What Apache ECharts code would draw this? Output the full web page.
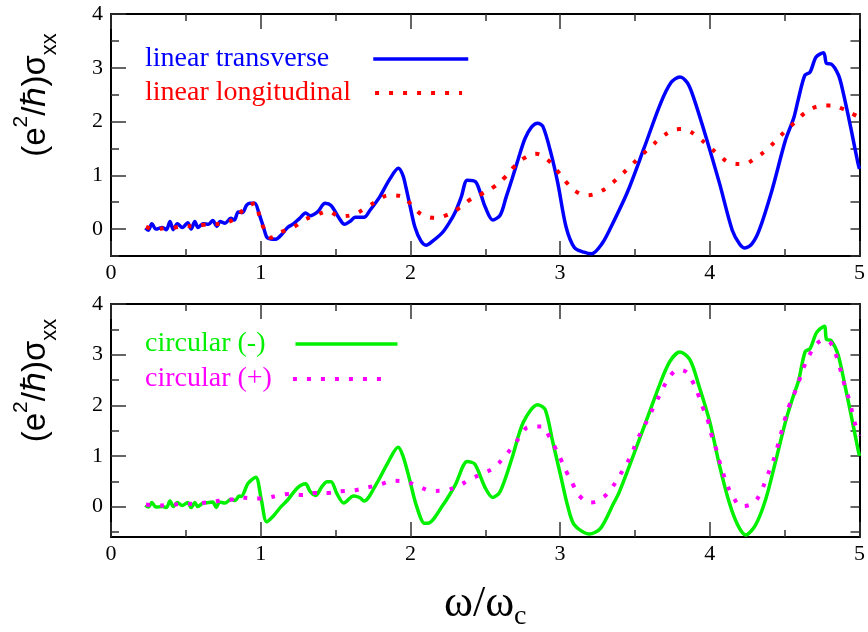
<!DOCTYPE html>
<html>
<head>
<meta charset="utf-8">
<script src="https://cdn.jsdelivr.net/npm/echarts@6/dist/echarts.min.js"></script>
<style>html,body{margin:0;padding:0;background:#fff;}#c{width:868px;height:632px;}</style>
</head>
<body>
<div id="c"></div>
<script>
// ---- data ----
var xTickLabels = [0, 1, 2, 3, 4, 5];
var yMajorTicks = [0, 1, 2, 3, 4];
var yMinorTicks = [-0.5, 0.5, 1.5, 2.5, 3.5];
var yAllTicks = [-0.5, 0, 0.5, 1, 1.5, 2, 2.5, 3, 3.5, 4];

var seriesNames = ['linear transverse', 'linear longitudinal', 'circular (-)', 'circular (+)'];

var blueX = [0.23,0.249,0.273,0.30,0.343,0.37,0.394,0.416,0.443,0.476,0.513,0.535,0.56,0.581,0.614,0.652,0.68,0.707,0.729,0.762,0.80,0.824,0.85,0.878,0.905,0.927,0.96,0.99,1.02,1.04,1.06,1.10,1.14,1.18,1.22,1.26,1.30,1.33,1.38,1.43,1.47,1.52,1.56,1.60,1.63,1.69,1.73,1.795,1.86,1.92,1.95,1.97,2.00,2.03,2.07,2.105,2.15,2.215,2.26,2.30,2.34,2.38,2.435,2.47,2.50,2.55,2.60,2.64,2.68,2.72,2.765,2.81,2.85,2.885,2.94,2.985,3.04,3.095,3.16,3.21,3.28,3.34,3.45,3.56,3.67,3.74,3.80,3.85,3.89,3.975,4.065,4.15,4.20,4.235,4.28,4.33,4.415,4.505,4.56,4.59,4.635,4.67,4.71,4.76,4.78,4.81,4.86,4.89,4.945,4.99,5.0];
var blueY = [0.02,-0.02,0.10,0.00,0.03,-0.01,0.14,-0.01,0.10,0.03,0.12,0.00,0.14,0.03,0.10,0.09,0.16,0.05,0.14,0.11,0.20,0.17,0.32,0.31,0.44,0.48,0.48,0.28,0.02,-0.15,-0.18,-0.19,-0.10,0.03,0.10,0.20,0.30,0.25,0.32,0.48,0.44,0.22,0.09,0.15,0.22,0.22,0.35,0.60,0.92,1.13,1.00,0.78,0.40,0.04,-0.22,-0.30,-0.22,-0.06,0.12,0.32,0.60,0.91,0.88,0.65,0.41,0.17,0.26,0.60,0.94,1.30,1.68,1.90,1.97,1.91,1.40,0.85,0.04,-0.34,-0.43,-0.46,-0.27,0.04,0.69,1.50,2.33,2.72,2.83,2.72,2.46,1.71,0.85,-0.02,-0.28,-0.35,-0.28,-0.02,0.72,1.65,2.06,2.40,2.86,2.92,3.20,3.28,3.08,3.07,2.86,2.55,1.84,1.22,1.12];

var redX = [0.234,0.295,0.37,0.425,0.50,0.555,0.62,0.69,0.755,0.83,0.888,0.964,0.99,1.02,1.066,1.14,1.22,1.29,1.37,1.45,1.53,1.62,1.70,1.775,1.856,1.945,2.01,2.077,2.165,2.25,2.33,2.40,2.48,2.56,2.63,2.69,2.76,2.84,2.92,2.98,3.036,3.10,3.18,3.27,3.345,3.41,3.477,3.543,3.61,3.677,3.756,3.80,3.85,3.92,3.99,4.06,4.13,4.225,4.30,4.377,4.44,4.507,4.57,4.64,4.72,4.806,4.894,4.97,5.0];
var redY = [0.04,0.00,0.02,0.03,0.06,0.05,0.08,0.09,0.11,0.20,0.37,0.48,0.26,0.02,-0.16,-0.05,0.04,0.17,0.26,0.33,0.24,0.27,0.39,0.52,0.63,0.61,0.44,0.27,0.21,0.27,0.40,0.55,0.66,0.79,0.96,1.15,1.32,1.40,1.28,1.09,0.89,0.71,0.63,0.70,0.85,1.01,1.19,1.37,1.54,1.71,1.84,1.86,1.84,1.71,1.55,1.38,1.24,1.21,1.31,1.47,1.64,1.83,1.99,2.17,2.28,2.30,2.23,2.12,2.08];

var greenX = [0.23,0.25,0.273,0.30,0.343,0.37,0.394,0.416,0.443,0.476,0.513,0.535,0.56,0.58,0.614,0.652,0.68,0.703,0.725,0.762,0.80,0.83,0.856,0.87,0.916,0.967,1.004,1.04,1.086,1.136,1.18,1.246,1.30,1.33,1.367,1.41,1.444,1.47,1.51,1.555,1.62,1.66,1.69,1.775,1.85,1.918,1.95,1.995,2.04,2.094,2.116,2.215,2.30,2.38,2.43,2.50,2.55,2.60,2.68,2.755,2.85,2.90,2.95,3.01,3.05,3.095,3.195,3.27,3.36,3.393,3.492,3.58,3.668,3.734,3.80,3.867,3.93,4.0,4.065,4.13,4.186,4.24,4.306,4.373,4.44,4.505,4.55,4.593,4.637,4.67,4.714,4.765,4.78,4.81,4.857,4.90,4.945,4.99,5.0];
var greenY = [0.03,-0.01,0.08,-0.01,0.00,-0.02,0.11,0.00,0.08,0.02,0.08,-0.02,0.08,0.00,0.07,0.08,0.09,-0.02,0.09,0.07,0.14,0.12,0.21,0.20,0.46,0.58,0.14,-0.30,-0.18,0.00,0.13,0.37,0.45,0.30,0.22,0.40,0.49,0.49,0.25,0.07,0.21,0.18,0.11,0.46,0.87,1.17,1.00,0.53,0.02,-0.33,-0.33,0.02,0.43,0.89,0.84,0.37,0.18,0.30,0.97,1.67,2.01,1.92,1.29,0.53,0.02,-0.36,-0.54,-0.43,0.08,0.27,1.03,1.73,2.43,2.87,3.05,2.90,2.36,1.67,0.81,0.08,-0.36,-0.56,-0.36,0.14,0.90,1.67,2.11,2.49,3.06,3.12,3.44,3.56,3.30,3.28,3.00,2.43,1.79,1.13,1.00];

var magentaX = [0.234,0.30,0.40,0.50,0.60,0.696,0.747,0.806,0.86,0.916,0.987,1.04,1.12,1.19,1.28,1.36,1.45,1.53,1.62,1.70,1.80,1.885,1.973,2.06,2.145,2.23,2.32,2.40,2.48,2.56,2.62,2.68,2.73,2.79,2.876,2.93,2.97,3.01,3.045,3.085,3.13,3.206,3.287,3.345,3.393,3.437,3.48,3.51,3.55,3.59,3.63,3.67,3.71,3.763,3.80,3.85,3.895,3.928,3.954,3.987,4.01,4.038,4.06,4.087,4.115,4.153,4.21,4.29,4.34,4.373,4.405,4.435,4.46,4.483,4.505,4.534,4.567,4.597,4.626,4.663,4.707,4.76,4.81,4.853,4.897,4.934,4.967,5.0];
var magentaY = [0.04,0.02,0.04,0.05,0.07,0.10,0.13,0.14,0.18,0.17,0.16,0.17,0.22,0.25,0.23,0.27,0.27,0.30,0.32,0.37,0.44,0.51,0.49,0.39,0.31,0.32,0.41,0.54,0.65,0.77,0.96,1.17,1.37,1.57,1.58,1.37,1.15,0.90,0.67,0.44,0.21,0.08,0.18,0.37,0.59,0.81,1.05,1.29,1.52,1.75,2.00,2.23,2.46,2.67,2.70,2.64,2.41,2.17,1.95,1.70,1.43,1.18,0.94,0.68,0.44,0.21,0.01,0.07,0.28,0.52,0.77,1.00,1.27,1.52,1.76,2.02,2.25,2.49,2.74,2.98,3.19,3.29,3.22,2.90,2.43,2.08,1.67,1.40];

function zip(xs, ys) { return xs.map(function (x, i) { return [x, ys[i]]; }); }

// ---- styling ----
var SERIF = 'Liberation Serif';
var SANS = 'Liberation Sans';
var tickColor = '#333';
var BLUE = '#0000ff', RED = '#ff0000', GREEN = '#00f000', MAGENTA = '#ff00ff';
var DOTS = [4, 10];

function xAxes(grid, pos, withLabels, extra) {
  var a = {
    type: 'value', gridIndex: grid, position: pos, min: 0, max: 5, interval: 1,
    axisLine: { show: true, onZero: false, lineStyle: { color: '#000', width: 2 } },
    axisTick: { show: true, inside: true, length: 15, lineStyle: { color: tickColor, width: 1.5 } },
    minorTick: { show: true, splitNumber: 2, length: 7, lineStyle: { color: tickColor, width: 1.5 } },
    splitLine: { show: false }, minorSplitLine: { show: false },
    axisLabel: { show: withLabels, margin: 6, fontSize: 22, fontFamily: SERIF, color: '#000',
      customValues: xTickLabels }
  };
  if (extra) for (var k in extra) a[k] = extra[k];
  return a;
}

function yAxesFor(grid, ymin, nameStr) {
  var base = {
    type: 'value', gridIndex: grid, min: ymin, max: 4, interval: 0.5,
    splitLine: { show: false }
  };
  function mk(o) { var r = {}; for (var k in base) r[k] = base[k]; for (var k2 in o) r[k2] = o[k2]; return r; }
  return [
    mk({
      position: 'left',
      axisLine: { show: true, onZero: false, lineStyle: { color: '#000', width: 2 } },
      axisTick: { show: true, inside: true, length: 15, customValues: yMajorTicks, lineStyle: { color: tickColor, width: 1.5 } },
      axisLabel: { show: true, margin: 8, fontSize: 22, fontFamily: SERIF, color: '#000', customValues: yMajorTicks },
      name: nameStr, nameLocation: 'middle', nameRotate: 90, nameGap: 50,
      nameTextStyle: {
        color: '#000', fontFamily: SANS, fontSize: 33, padding: [0, 0, 0, 80],
        rich: {
          m: { fontFamily: SANS, fontSize: 33, lineHeight: 50, color: '#000', verticalAlign: 'middle' },
          sup: { fontFamily: SANS, fontSize: 21, lineHeight: 21, color: '#000', verticalAlign: 'top' },
          sub: { fontFamily: SANS, fontSize: 22, lineHeight: 22, color: '#000', verticalAlign: 'bottom' }
        }
      }
    }),
    mk({
      position: 'left',
      axisLine: { show: false },
      axisTick: { show: true, inside: true, length: 8, customValues: yMinorTicks, lineStyle: { color: tickColor, width: 1.5 } },
      axisLabel: { show: false }
    }),
    mk({
      position: 'right',
      axisLine: { show: true, onZero: false, lineStyle: { color: '#000', width: 2 } },
      axisTick: { show: true, inside: true, length: 9, customValues: yAllTicks, lineStyle: { color: tickColor, width: 1.5 } },
      axisLabel: { show: false }
    })
  ];
}

var yName = '{m|(e}{sup|2}{m|/ℏ)σ}{sub|xx}';

function legendFor(name, color, top, itemWidth, gap, lineW, lineType) {
  return {
    data: [name], left: 145, top: top, orient: 'horizontal', align: 'right',
    padding: 0, itemWidth: itemWidth, itemHeight: 14, selectedMode: false,
    itemStyle: { opacity: 0 },
    lineStyle: { width: lineW, type: lineType, color: color },
    textStyle: { color: color, fontSize: 28, fontFamily: SERIF, padding: [0, gap, 0, 0] }
  };
}

var option = {
  animation: false,
  backgroundColor: '#fff',
  grid: [
    { left: 111, top: 14, width: 756, height: 242, containLabel: false },
    { left: 111, top: 304, width: 756, height: 242, containLabel: false }
  ],
  legend: [
    legendFor(seriesNames[0], BLUE, 45, 95, 39, 3.5, 'solid'),
    legendFor(seriesNames[1], RED, 79, 87, 19, 4, DOTS),
    legendFor(seriesNames[2], GREEN, 330, 102, 25, 3.5, 'solid'),
    legendFor(seriesNames[3], MAGENTA, 365, 97, 16, 4, DOTS)
  ],
  xAxis: [
    xAxes(0, 'bottom', true),
    xAxes(0, 'top', false),
    xAxes(1, 'bottom', true, {
      name: '{a|ω/ω}{s|c}', nameLocation: 'middle', nameGap: 40,
      nameTextStyle: {
        rich: {
          a: { fontFamily: SERIF, fontSize: 44, lineHeight: 54, color: '#000', verticalAlign: 'middle' },
          s: { fontFamily: SERIF, fontSize: 28, lineHeight: 28, color: '#000', verticalAlign: 'bottom' }
        }
      }
    }),
    xAxes(1, 'top', false)
  ],
  yAxis: [].concat(yAxesFor(0, -0.5, yName), yAxesFor(1, -0.6, yName)),
  series: [
    { name: seriesNames[0], type: 'line', xAxisIndex: 0, yAxisIndex: 0, data: zip(blueX, blueY),
      symbol: 'none', smooth: 0.3, color: BLUE, lineStyle: { color: BLUE, width: 3.5 } },
    { name: seriesNames[1], type: 'line', xAxisIndex: 0, yAxisIndex: 0, data: zip(redX, redY),
      symbol: 'none', smooth: 0.4, color: RED, lineStyle: { color: RED, width: 4, type: DOTS } },
    { name: seriesNames[2], type: 'line', xAxisIndex: 2, yAxisIndex: 3, data: zip(greenX, greenY),
      symbol: 'none', smooth: 0.3, color: GREEN, lineStyle: { color: GREEN, width: 3.5 } },
    { name: seriesNames[3], type: 'line', xAxisIndex: 2, yAxisIndex: 3, data: zip(magentaX, magentaY),
      symbol: 'none', smooth: 0.4, color: MAGENTA, lineStyle: { color: MAGENTA, width: 4, type: DOTS } }
  ]
};

var chart = echarts.init(document.getElementById('c'), null, { renderer: 'canvas' });
chart.setOption(option);
</script>
</body>
</html>
